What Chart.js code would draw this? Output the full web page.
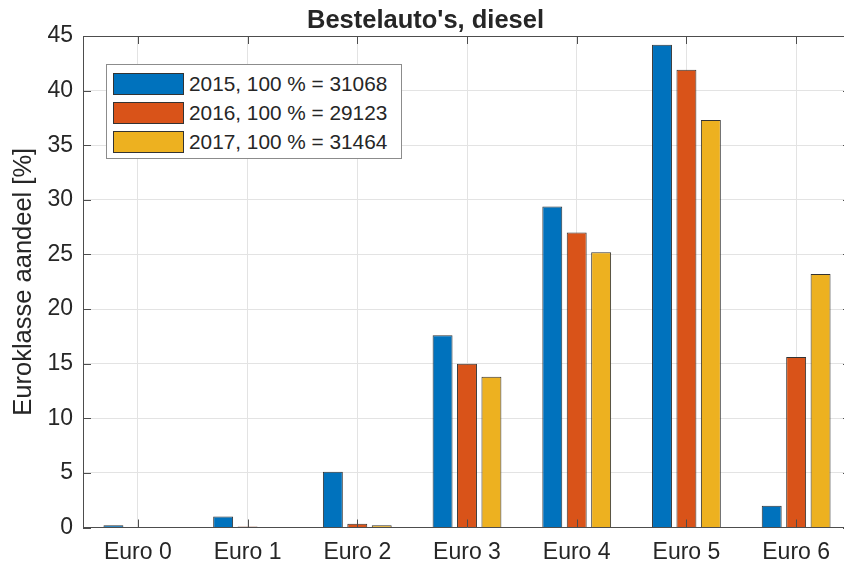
<!DOCTYPE html>
<html>
<head>
<meta charset="utf-8">
<title>Bestelauto's, diesel</title>
<script src="https://cdn.jsdelivr.net/npm/chart.js@4/dist/chart.umd.min.js"></script>
<style>
  body { margin: 0; overflow: hidden; background: #fff; }
  #wrap { position: relative; width: 860px; height: 567px; }
  #legend {
    position: absolute; left: 106px; top: 64px; width: 296px; height: 95px;
    box-sizing: border-box; border: 1px solid #8c8c8c; background: #fff;
    padding-top: 4px; font-family: "Liberation Sans", Arial, sans-serif;
    font-size: 20.8px; color: #262626;
  }
  .row { display: flex; align-items: center; height: 29.3px; }
  .swatch { width: 71px; height: 22px; box-sizing: border-box; border: 1px solid #333; margin: 0 5px 0 6px; }
</style>
</head>
<body>
<div id="wrap">
  <canvas id="chart" width="860" height="567"></canvas>
  <div id="legend"></div>
</div>
<script>
'use strict';
// Categories, series and tick values
const categories = ['Euro 0', 'Euro 1', 'Euro 2', 'Euro 3', 'Euro 4', 'Euro 5', 'Euro 6'];
const seriesLabels = ['2015, 100 % = 31068', '2016, 100 % = 29123', '2017, 100 % = 31464'];
const values2015 = [0.2, 1.0, 5.1, 17.6, 29.4, 44.2, 2.0];
const values2016 = [0, 0.1, 0.35, 15.0, 27.0, 41.9, 15.6];
const values2017 = [0, 0, 0.2, 13.8, 25.2, 37.3, 23.2];
const yTicks = [0, 5, 10, 15, 20, 25, 30, 35, 40, 45];
const colors = ['#0072BD', '#D95319', '#EDB120'];

const font = '"Liberation Sans", Arial, sans-serif';
const textColor = '#262626';
const axisColor = '#4d4d4d';

const datasets = [values2015, values2016, values2017].map((vals, i) => ({
  label: seriesLabels[i],
  data: vals,
  backgroundColor: colors[i],
  borderColor: '#333',
  borderWidth: 1,
  categoryPercentage: 0.668,
  barPercentage: 0.816
}));

// Box on top and right, ticks pointing inward like the original axes
const boxPlugin = {
  id: 'box',
  afterDatasetsDraw(chart) {
    const {ctx, chartArea: a, scales} = chart;
    ctx.save();
    ctx.strokeStyle = axisColor;
    ctx.lineWidth = 1;
    ctx.beginPath();
    ctx.moveTo(a.left, a.top + 0.5);
    ctx.lineTo(a.right, a.top + 0.5);
    ctx.lineTo(a.right, a.bottom);
    scales.x.ticks.forEach((t, i) => {
      const x = Math.round(scales.x.getPixelForTick(i)) + 0.5;
      ctx.moveTo(x, a.bottom); ctx.lineTo(x, a.bottom - 8);
      ctx.moveTo(x, a.top); ctx.lineTo(x, a.top + 8);
    });
    scales.y.ticks.forEach((t, i) => {
      const y = Math.round(scales.y.getPixelForTick(i)) + 0.5;
      ctx.moveTo(a.left, y); ctx.lineTo(a.left + 8, y);
      ctx.moveTo(a.right, y); ctx.lineTo(a.right - 8, y);
    });
    ctx.stroke();
    ctx.restore();
  }
};

const chart = new Chart(document.getElementById('chart').getContext('2d'), {
  type: 'bar',
  data: { labels: categories, datasets: datasets },
  options: {
    responsive: false,
    animation: false,
    devicePixelRatio: 1,
    layout: { padding: { left: 0, right: 9, top: 0, bottom: 0 } },
    plugins: {
      legend: { display: false },
      tooltip: { enabled: false },
      title: {
        display: true, text: "Bestelauto's, diesel", color: textColor,
        font: { family: font, size: 25.5, weight: 'bold' },
        padding: { top: 5.4, bottom: 0 }
      }
    },
    scales: {
      x: {
        grid: { offset: false, color: '#e3e3e3', drawTicks: false },
        border: { color: axisColor },
        ticks: { color: textColor, font: { family: font, size: 23 }, padding: 11, maxRotation: 0 },
        afterFit(scale) { scale.height = 39.5; }
      },
      y: {
        min: 0, max: 45,
        afterBuildTicks(scale) { scale.ticks = yTicks.map(v => ({ value: v })); },
        grid: { color: '#e3e3e3', drawTicks: false },
        border: { color: axisColor },
        ticks: { color: textColor, font: { family: font, size: 23 }, padding: 10 },
        title: {
          display: true, text: 'Euroklasse aandeel [%]', color: textColor,
          font: { family: font, size: 25.5 }, padding: { top: 8.5, bottom: 0 }
        },
        afterFit(scale) { scale.width = 83; }
      }
    }
  },
  plugins: [boxPlugin]
});

// Legend inside the plot area, built from the datasets
const legend = document.getElementById('legend');
chart.data.datasets.forEach(ds => {
  const row = document.createElement('div');
  row.className = 'row';
  const sw = document.createElement('span');
  sw.className = 'swatch';
  sw.style.background = ds.backgroundColor;
  const label = document.createElement('span');
  label.textContent = ds.label;
  row.appendChild(sw);
  row.appendChild(label);
  legend.appendChild(row);
});
</script>
</body>
</html>
